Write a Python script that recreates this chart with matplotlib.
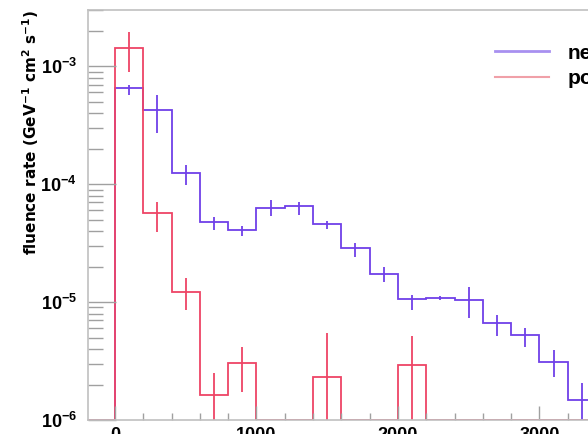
import numpy as np
import matplotlib
matplotlib.use("Agg")
import matplotlib.pyplot as plt
from matplotlib.lines import Line2D
from matplotlib.ticker import MultipleLocator, LogLocator, NullFormatter

matplotlib.rcParams.update({
    "font.family": ["Liberation Sans", "DejaVu Sans"],
    "font.weight": "bold",
    "mathtext.default": "regular",
})

# bin edges (energy), 200 wide, first bin empty
edges = np.arange(-200, 3401, 200)

# neutron fluence per bin and error bar bounds
neutron = [0, 6.5e-4, 4.24e-4, 1.24e-4, 4.77e-5, 4.07e-5, 6.27e-5, 6.5e-5, 4.58e-5,
           2.87e-5, 1.73e-5, 1.06e-5, 1.08e-5, 1.04e-5, 6.64e-6, 5.25e-6, 3.1e-6, 1.48e-6]
neutron_hi = [0, 6.9e-4, 5.68e-4, 1.45e-4, 5.3e-5, 4.4e-5, 7.3e-5, 7.0e-5, 4.9e-5,
              3.16e-5, 1.98e-5, 1.15e-5, 1.12e-5, 1.34e-5, 7.7e-6, 6.0e-6, 3.9e-6, 2.07e-6]
neutron_lo = [0, 5.68e-4, 2.7e-4, 9.8e-5, 4.1e-5, 3.6e-5, 5.35e-5, 5.5e-5, 4.2e-5,
              2.4e-5, 1.47e-5, 8.6e-6, 1.04e-5, 7.4e-6, 5.2e-6, 4.2e-6, 2.3e-6, 1e-7]

# positron fluence per bin and error bar bounds
positron = [0, 1.42e-3, 5.7e-5, 1.22e-5, 1.63e-6, 3.04e-6, 0, 0, 2.31e-6,
            0, 0, 2.92e-6, 0, 0, 0, 0, 0, 0]
positron_hi = [0, 1.94e-3, 7.03e-5, 1.6e-5, 2.5e-6, 4.16e-6, 0, 0, 5.45e-6,
               0, 0, 5.2e-6, 0, 0, 0, 0, 0, 0]
positron_lo = [0, 8.9e-4, 3.92e-5, 8.55e-6, 1e-7, 1.73e-6, 0, 0, 1e-7,
               0, 0, 1e-7, 0, 0, 0, 0, 0, 0]

ymin, ymax = 1e-6, 3e-3
blue = "#7040e8"
red = "#ee4466"

fig = plt.figure(figsize=(5.88, 4.34), dpi=100)
ax = fig.add_axes([88/588, 14/434, 593/588, 410/434])

centers = 0.5*(edges[1:] + edges[:-1])

def draw(vals, lo, hi, col):
    v = np.array(vals, float)
    lo = np.array(lo, float)
    hi = np.array(hi, float)
    ax.stairs(np.where(v > 0, v, ymin), edges, color=col, lw=1.3, baseline=None)
    m = v > 0
    ax.vlines(centers[m], lo[m], hi[m], color=col, lw=1.3)

draw(neutron, neutron_lo, neutron_hi, blue)
draw(positron, positron_lo, positron_hi, red)

ax.set_yscale("log")
ax.set_xlim(-190, 4000)
ax.set_ylim(ymin, ymax)

ax.xaxis.set_major_locator(MultipleLocator(1000))
ax.xaxis.set_minor_locator(MultipleLocator(200))
ax.yaxis.set_major_locator(LogLocator(base=10))
ax.yaxis.set_minor_locator(LogLocator(base=10, subs=np.arange(2, 10)))
ax.yaxis.set_minor_formatter(NullFormatter())

ax.tick_params(axis="x", which="major", direction="in", length=10, width=1,
               color="#a0a0a0", labelsize=13, pad=5)
ax.tick_params(axis="x", which="minor", direction="in", length=5, width=1, color="#a0a0a0")
ax.tick_params(axis="y", which="major", direction="in", length=20, width=1,
               color="#a0a0a0", labelsize=13, pad=8)
ax.tick_params(axis="y", which="minor", direction="in", length=11, width=1, color="#a0a0a0")
for s in ax.spines.values():
    s.set_color("#c0c0c0")
    s.set_linewidth(1.2)

ax.set_ylabel("fluence rate (GeV$^{-1}$ cm$^{2}$ s$^{-1}$)", fontsize=11, loc="top",
              family="DejaVu Sans", fontweight="bold")
ax.yaxis.set_label_coords(-0.080, 1.0)

handles = [Line2D([], [], color="#a890f0", lw=2),
           Line2D([], [], color="#f0a0a8", lw=1.5)]
fig.legend(handles, ["neutrons", "positrons"], loc="upper left",
           bbox_to_anchor=(476/588, 1 - 25/434), frameon=False, fontsize=15,
           handlelength=2.6, handletextpad=0.9, labelspacing=0.3)

fig.savefig("out.png", dpi=100)
